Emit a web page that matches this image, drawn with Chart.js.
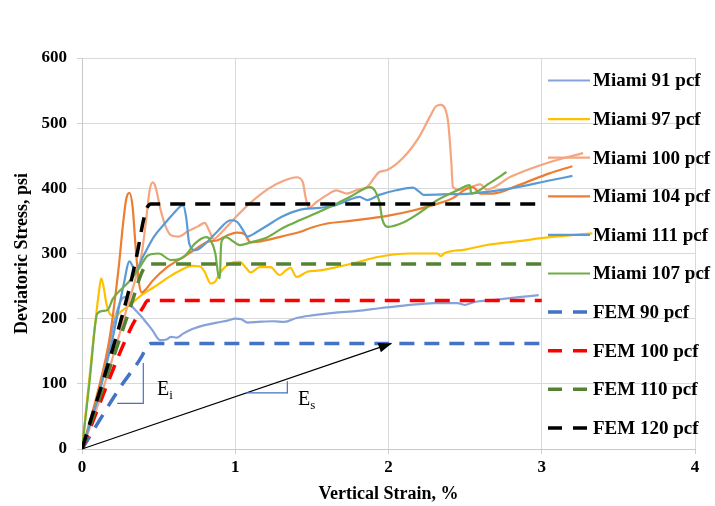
<!DOCTYPE html>
<html>
<head>
<meta charset="utf-8">
<script src="https://cdn.jsdelivr.net/npm/chart.js@4/dist/chart.umd.min.js"></script>
<style>
  html, body { margin: 0; padding: 0; background: #ffffff; }
  #wrap { width: 715px; height: 506px; }
</style>
</head>
<body>
<div id="wrap"><canvas id="c" width="715" height="506"></canvas></div>
<script>
// Vertical strain (%) vs deviatoric stress (psi), one [strain, stress] pair per point
const miami91 = [[0,0],[0.08,60],[0.15,130],[0.21,195],[0.25,226],[0.28,233],[0.33,218],[0.40,200],[0.46,182],[0.51,167],[0.55,168],[0.58,172],[0.62,171],[0.66,177],[0.72,184],[0.80,190],[0.88,194],[0.95,197],[1.00,200],[1.04,199],[1.08,194],[1.15,195],[1.25,196],[1.32,195],[1.40,201],[1.50,205],[1.64,209],[1.80,212],[1.94,216],[2.10,220],[2.30,224],[2.45,224],[2.50,221],[2.55,225],[2.70,229],[2.85,233],[2.98,236]];
const miami97 = [[0,0],[0.04,90],[0.08,180],[0.11,240],[0.125,262],[0.14,250],[0.16,222],[0.18,208],[0.21,204],[0.26,212],[0.32,223],[0.40,238],[0.48,250],[0.56,263],[0.64,274],[0.72,281],[0.77,280],[0.80,272],[0.84,254],[0.87,257],[0.90,270],[0.97,285],[1.03,287],[1.07,278],[1.10,271],[1.16,279],[1.23,279],[1.29,267],[1.33,274],[1.36,278],[1.40,264],[1.47,272],[1.55,274],[1.64,278],[1.77,285],[1.94,295],[2.14,300],[2.32,300],[2.34,296],[2.37,301],[2.50,306],[2.64,313],[2.85,319],[3.05,325],[3.33,331]];
const miami100 = [[0,0],[0.10,65],[0.20,140],[0.30,222],[0.36,270],[0.39,300],[0.42,355],[0.44,395],[0.46,409],[0.48,402],[0.51,370],[0.54,345],[0.58,328],[0.63,326],[0.69,334],[0.76,342],[0.80,347],[0.83,335],[0.86,322],[0.90,330],[1.00,355],[1.10,378],[1.22,400],[1.32,412],[1.40,417],[1.44,410],[1.46,385],[1.48,370],[1.53,379],[1.60,390],[1.66,397],[1.73,392],[1.80,398],[1.86,402],[1.94,425],[1.99,428],[2.10,448],[2.20,479],[2.27,510],[2.31,526],[2.34,528],[2.37,522],[2.39,500],[2.41,440],[2.42,402],[2.46,398],[2.55,403],[2.60,406],[2.64,398],[2.80,418],[3.05,440],[3.27,454]];
const miami104 = [[0,0],[0.10,85],[0.18,170],[0.24,280],[0.27,350],[0.29,385],[0.31,393],[0.33,372],[0.35,310],[0.37,258],[0.39,240],[0.42,246],[0.46,258],[0.55,278],[0.65,293],[0.75,308],[0.82,318],[0.88,320],[0.95,328],[1.01,332],[1.06,330],[1.10,317],[1.15,318],[1.21,321],[1.30,326],[1.42,333],[1.50,340],[1.60,346],[1.75,350],[1.88,354],[2.00,358],[2.16,366],[2.30,375],[2.42,385],[2.50,398],[2.55,402],[2.60,392],[2.68,392],[2.85,405],[3.05,423],[3.20,434]];
const miami111 = [[0,0],[0.10,75],[0.20,170],[0.27,250],[0.31,288],[0.33,281],[0.35,273],[0.40,296],[0.47,326],[0.54,346],[0.60,362],[0.64,372],[0.66,374],[0.68,355],[0.70,315],[0.74,305],[0.80,314],[0.88,333],[0.97,351],[1.01,349],[1.05,336],[1.08,326],[1.14,333],[1.21,343],[1.30,356],[1.42,367],[1.55,370],[1.64,373],[1.72,380],[1.81,387],[1.86,382],[1.94,390],[2.05,397],[2.16,401],[2.20,395],[2.23,390],[2.40,391],[2.53,392],[2.80,400],[3.05,412],[3.20,419]];
const miami107 = [[0,0],[0.05,105],[0.10,208],[0.14,212],[0.17,214],[0.20,230],[0.26,246],[0.32,260],[0.38,280],[0.43,297],[0.50,300],[0.58,290],[0.63,291],[0.67,296],[0.74,316],[0.81,325],[0.84,320],[0.87,300],[0.89,266],[0.90,262],[0.905,300],[0.91,318],[0.94,325],[0.99,318],[1.03,313],[1.10,317],[1.21,325],[1.31,339],[1.42,351],[1.53,362],[1.64,374],[1.75,387],[1.88,402],[1.91,397],[1.94,380],[1.96,352],[2.00,341],[2.10,348],[2.20,362],[2.32,382],[2.45,397],[2.53,405],[2.54,392],[2.66,408],[2.77,425]];
const fem90 = [[0,0],[0.25,95],[0.39,142],[0.42,156],[0.45,162],[3.0,162]];
const fem100 = [[0,0],[0.32,186],[0.40,218],[0.43,228],[3.0,228]];
const fem110 = [[0,0],[0.33,228],[0.385,268],[0.42,282],[0.45,284],[3.0,284]];
const fem120 = [[0,0],[0.30,238],[0.36,300],[0.40,350],[0.42,368],[0.45,376],[3.0,376]];

const seriesNames = ['Miami 91 pcf','Miami 97 pcf','Miami 100 pcf','Miami 104 pcf','Miami 111 pcf','Miami 107 pcf','FEM 90 pcf','FEM 100 pcf','FEM 110 pcf','FEM 120 pcf'];
const seriesData = [miami91, miami97, miami100, miami104, miami111, miami107, fem90, fem100, fem110, fem120];
const seriesColors = ['#86a3d9','#ffc000','#f5a57f','#ed7d31','#5b9bd5','#70ad47','#4472c4','#ff0000','#548235','#000000'];
const seriesDashed = [false,false,false,false,false,false,true,true,true,true];

const xTicks = [0, 1, 2, 3, 4];
const yTicks = [0, 100, 200, 300, 400, 500, 600];

// Secant-modulus arrow and the two modulus markers (strain, stress)
const secantArrow = [[0,0],[2.02,162]];
const eiMarker = [[0.23,70],[0.40,70],[0.40,132]];
const esMarker = [[1.07,86],[1.34,86],[1.34,104]];
const moduleLabels = [
  { main: 'E', sub: 'i', at: [0.489, 83] },
  { main: 'E', sub: 's', at: [1.41, 67] }
];

const SERIF = "'Liberation Serif', 'Times New Roman', serif";

const datasets = seriesData.map((pts, i) => ({
  label: seriesNames[i],
  data: pts.map(p => ({ x: p[0], y: p[1] })),
  borderColor: seriesColors[i],
  backgroundColor: seriesColors[i],
  borderWidth: seriesDashed[i] ? 3.5 : 2.2,
  borderDash: seriesDashed[i] ? [15, 10] : [],
  pointRadius: 0,
  fill: false,
  cubicInterpolationMode: 'monotone',
  order: -i
}));

const annotationPlugin = {
  id: 'moduli',
  afterDatasetsDraw(chart) {
    const { ctx, scales: { x, y } } = chart;
    const px = p => [x.getPixelForValue(p[0]), y.getPixelForValue(p[1])];
    ctx.save();
    // secant arrow
    const a = px(secantArrow[0]), b = px(secantArrow[1]);
    ctx.strokeStyle = '#000';
    ctx.lineWidth = 1.2;
    ctx.beginPath(); ctx.moveTo(a[0], a[1]); ctx.lineTo(b[0], b[1]); ctx.stroke();
    const ang = Math.atan2(b[1] - a[1], b[0] - a[0]);
    const L = 13, W = 5;
    ctx.fillStyle = '#000';
    ctx.beginPath();
    ctx.moveTo(b[0], b[1]);
    ctx.lineTo(b[0] - L * Math.cos(ang) + W * Math.sin(ang), b[1] - L * Math.sin(ang) - W * Math.cos(ang));
    ctx.lineTo(b[0] - L * Math.cos(ang) - W * Math.sin(ang), b[1] - L * Math.sin(ang) + W * Math.cos(ang));
    ctx.closePath(); ctx.fill();
    // slope markers
    ctx.strokeStyle = '#4472c4';
    ctx.lineWidth = 1.2;
    [eiMarker, esMarker].forEach(m => {
      ctx.beginPath();
      m.forEach((p, k) => { const q = px(p); k ? ctx.lineTo(q[0], q[1]) : ctx.moveTo(q[0], q[1]); });
      ctx.stroke();
    });
    // E_i / E_s
    ctx.fillStyle = '#000';
    ctx.textBaseline = 'alphabetic';
    ctx.textAlign = 'left';
    moduleLabels.forEach(l => {
      const q = px(l.at);
      ctx.font = '20px ' + SERIF;
      ctx.fillText(l.main, q[0], q[1]);
      const w = ctx.measureText(l.main).width;
      ctx.font = '13px ' + SERIF;
      ctx.fillText(l.sub, q[0] + w, q[1] + 4);
    });
    ctx.restore();
  }
};

const legendPlugin = {
  id: 'overlayLegend',
  afterDraw(chart) {
    const { ctx } = chart;
    ctx.save();
    ctx.font = 'bold 19px ' + SERIF;
    ctx.textBaseline = 'middle';
    ctx.textAlign = 'left';
    chart.data.datasets.forEach((ds, i) => {
      const yy = 80.5 + i * 38.6;
      ctx.strokeStyle = ds.borderColor;
      ctx.lineWidth = ds.borderDash.length ? 3.5 : 2.2;
      ctx.setLineDash(ds.borderDash.length ? [14, 11] : []);
      ctx.beginPath(); ctx.moveTo(548, yy); ctx.lineTo(590, yy); ctx.stroke();
      ctx.setLineDash([]);
      ctx.fillStyle = '#000';
      ctx.fillText(ds.label, 593, yy + 1);
    });
    ctx.restore();
  }
};

new Chart(document.getElementById('c'), {
  type: 'line',
  data: { datasets },
  plugins: [annotationPlugin, legendPlugin],
  options: {
    responsive: false,
    animation: false,
    parsing: true,
    layout: { padding: { top: 58, right: 20, left: 0, bottom: 0 } },
    plugins: { legend: { display: false }, tooltip: { enabled: false } },
    scales: {
      x: {
        type: 'linear',
        min: xTicks[0], max: xTicks[xTicks.length - 1],
        afterBuildTicks: s => { s.ticks = xTicks.map(v => ({ value: v })); },
        afterFit: s => { s.height = 57; },
        grid: { color: '#d9d9d9', lineWidth: 1, tickLength: 5, tickColor: '#d0d0d0' },
        border: { color: '#c8c8c8' },
        ticks: { color: '#000', padding: 3, font: { family: SERIF, size: 17, weight: 'bold' }, maxRotation: 0 },
        title: { display: true, text: 'Vertical Strain, %', color: '#000', font: { family: SERIF, size: 18, weight: 'bold' }, padding: { top: 0, bottom: 1 } }
      },
      y: {
        type: 'linear',
        min: yTicks[0], max: yTicks[yTicks.length - 1],
        afterBuildTicks: s => { s.ticks = yTicks.map(v => ({ value: v })); },
        afterFit: s => { s.width = 82; },
        grid: { color: '#d9d9d9', lineWidth: 1, tickLength: 5, tickColor: '#d0d0d0' },
        border: { color: '#c8c8c8' },
        ticks: { color: '#000', padding: 10, font: { family: SERIF, size: 17, weight: 'bold' } },
        title: { display: true, text: 'Deviatoric Stress, psi', color: '#000', font: { family: SERIF, size: 18, weight: 'bold' }, padding: { top: 12, bottom: 0 } }
      }
    }
  }
});
</script>
</body>
</html>
